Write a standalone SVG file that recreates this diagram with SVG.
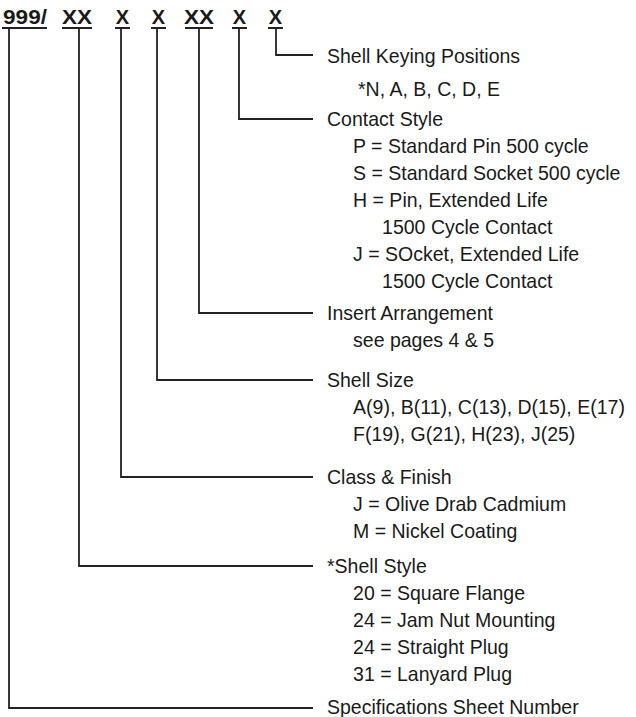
<svg xmlns="http://www.w3.org/2000/svg" width="636" height="717" viewBox="0 0 636 717">
<style>
.code{font-family:"Liberation Sans",Arial,sans-serif;font-weight:bold;font-size:20px;fill:#1a1a1a;text-anchor:middle}
.t{font-family:"Liberation Sans",Arial,sans-serif;font-size:21px;fill:#1a1a1a}
.ln{fill:none;stroke:#222;stroke-width:1.8}
</style>
<rect width="636" height="717" fill="#fff"/>
<g id="codes">
<text class="code" x="25" y="24" textLength="44" lengthAdjust="spacingAndGlyphs">999/</text>
<text class="code" x="77" y="24" textLength="30" lengthAdjust="spacingAndGlyphs">XX</text>
<text class="code" x="122.5" y="24">X</text>
<text class="code" x="158.5" y="24">X</text>
<text class="code" x="199" y="24" textLength="30" lengthAdjust="spacingAndGlyphs">XX</text>
<text class="code" x="239.5" y="24">X</text>
<text class="code" x="275.5" y="24">X</text>
</g>
<g id="connectors">
<path class="ln" d="M2 28H47M62 28H92M115 28H130M151 28H166M185 28H213M232 28H247M268 28H283"/>
<path class="ln" d="M276 28V55H313"/>
<path class="ln" d="M239 28V119H313"/>
<path class="ln" d="M199 28V313H313"/>
<path class="ln" d="M157 28V380H313"/>
<path class="ln" d="M121 28V477H313"/>
<path class="ln" d="M79 28V566H313"/>
<path class="ln" d="M9 28V708H313"/>
</g>
<g id="keying" transform="scale(0.93,1)">
<text class="t" x="351.6" y="63">Shell Keying Positions</text>
<text class="t" x="384.9" y="96">*N, A, B, C, D, E</text>
</g>
<g id="contact" transform="scale(0.93,1)">
<text class="t" x="351.6" y="126">Contact Style</text>
<text class="t" x="379.6" y="153">P = Standard Pin 500 cycle</text>
<text class="t" x="379.6" y="180">S = Standard Socket 500 cycle</text>
<text class="t" x="379.6" y="207">H = Pin, Extended Life</text>
<text class="t" x="410.8" y="234">1500 Cycle Contact</text>
<text class="t" x="379.6" y="261">J = SOcket, Extended Life</text>
<text class="t" x="410.8" y="288">1500 Cycle Contact</text>
</g>
<g id="insert" transform="scale(0.93,1)">
<text class="t" x="351.6" y="320">Insert Arrangement</text>
<text class="t" x="379.6" y="347">see pages 4 &amp; 5</text>
</g>
<g id="size" transform="scale(0.93,1)">
<text class="t" x="351.6" y="387">Shell Size</text>
<text class="t" x="379.6" y="414">A(9), B(11), C(13), D(15), E(17)</text>
<text class="t" x="379.6" y="441">F(19), G(21), H(23), J(25)</text>
</g>
<g id="class" transform="scale(0.93,1)">
<text class="t" x="351.6" y="484">Class &amp; Finish</text>
<text class="t" x="379.6" y="511">J = Olive Drab Cadmium</text>
<text class="t" x="379.6" y="538">M = Nickel Coating</text>
</g>
<g id="style" transform="scale(0.93,1)">
<text class="t" x="351.6" y="573">*Shell Style</text>
<text class="t" x="379.6" y="600">20 = Square Flange</text>
<text class="t" x="379.6" y="627">24 = Jam Nut Mounting</text>
<text class="t" x="379.6" y="654">24 = Straight Plug</text>
<text class="t" x="379.6" y="681">31 = Lanyard Plug</text>
</g>
<g id="spec" transform="scale(0.93,1)">
<text class="t" x="351.6" y="714">Specifications Sheet Number</text>
</g>
</svg>
